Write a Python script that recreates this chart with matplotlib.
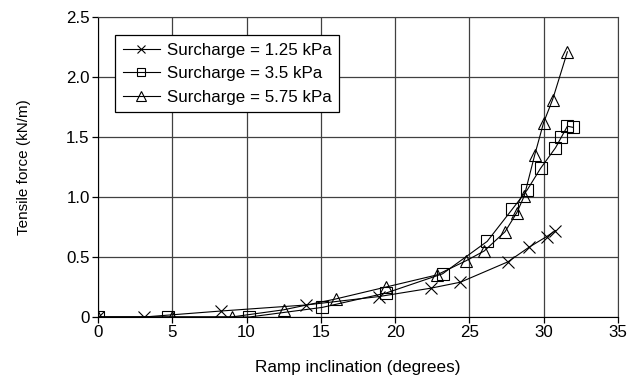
import matplotlib
matplotlib.use("Agg")
import matplotlib.pyplot as plt

plt.rcParams['font.family'] = ['Liberation Sans', 'DejaVu Sans']

# Surcharge 1.25 kPa
x1 = [0, 3.1, 8.3, 14.0, 18.9, 22.4, 24.4, 27.6, 29.0, 30.2, 30.8]
y1 = [0, 0, 0.05, 0.10, 0.17, 0.24, 0.29, 0.46, 0.58, 0.67, 0.72]

# Surcharge 3.5 kPa
x2 = [0, 4.7, 10.2, 15.1, 19.4, 23.2, 26.2, 27.9, 28.9, 29.8, 30.8, 31.2, 31.6, 32.0]
y2 = [0, 0, 0, 0.08, 0.20, 0.36, 0.63, 0.90, 1.06, 1.24, 1.41, 1.50, 1.59, 1.58]

# Surcharge 5.75 kPa
x3 = [0, 5.0, 9.0, 12.5, 16.0, 19.4, 22.8, 24.8, 26.0, 27.4, 28.2, 28.7, 29.4, 30.0, 30.6, 31.6]
y3 = [0, 0, 0, 0.06, 0.15, 0.25, 0.35, 0.47, 0.55, 0.71, 0.87, 1.01, 1.35, 1.62, 1.81, 2.21]

labels = ['Surcharge = 1.25 kPa', 'Surcharge = 3.5 kPa', 'Surcharge = 5.75 kPa']
xticks = [0, 5, 10, 15, 20, 25, 30, 35]
yticks = [0, 0.5, 1.0, 1.5, 2.0, 2.5]
yticklabels = ['0', '0.5', '1.0', '1.5', '2.0', '2.5']

fig = plt.figure(figsize=(6.37, 3.78), dpi=100)
ax = fig.add_axes([0.1538, 0.1614, 0.8162, 0.7936])

ax.plot(x1, y1, color='black', lw=0.8, marker='x', ms=8, mew=0.8,
        label=labels[0], zorder=3)
ax.plot(x2, y2, color='black', lw=0.8, marker='s', ms=8, mew=0.8,
        mfc='none', label=labels[1], zorder=3)
ax.plot(x3, y3, color='black', lw=0.8, marker='^', ms=9, mew=0.8,
        mfc='none', label=labels[2], zorder=3)

ax.set_xlim(0, 35)
ax.set_ylim(0, 2.5)
ax.set_xticks(xticks)
ax.set_yticks(yticks)
ax.set_yticklabels(yticklabels)
ax.grid(True, color='#404040', lw=0.9)
ax.set_axisbelow(True)
ax.tick_params(direction='out', length=4, width=0.9, labelsize=12.2, pad=2)

for side in ['top', 'right']:
    ax.spines[side].set_color('#404040')
for side in ['left', 'bottom']:
    ax.spines[side].set_color('black')

ax.set_xlabel('Ramp inclination (degrees)', fontsize=12.3, labelpad=14)
ax.set_ylabel('Tensile force (kN/m)', fontsize=11, labelpad=25)

leg = ax.legend(loc='upper left', bbox_to_anchor=(0.033, 0.94), fontsize=12.2,
                frameon=True, fancybox=False, edgecolor='black',
                handlelength=2.2, borderpad=0.45, labelspacing=0.5,
                handletextpad=0.4, borderaxespad=0, markerscale=0.75)
leg.get_frame().set_linewidth(0.9)
leg.get_frame().set_alpha(1)

fig.savefig('out.png', dpi=100)
